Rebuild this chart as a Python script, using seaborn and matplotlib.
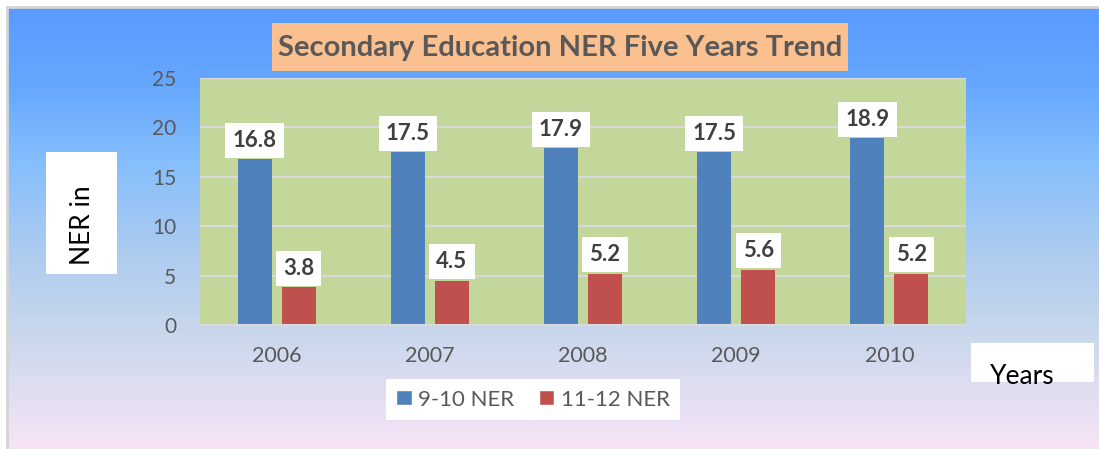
import numpy as np
import pandas as pd
import matplotlib.pyplot as plt
import seaborn as sns
from matplotlib.patches import Rectangle, Patch

# Data
years = ['2006', '2007', '2008', '2009', '2010']
ner_9_10 = [16.8, 17.5, 17.9, 17.5, 18.9]
ner_11_12 = [3.8, 4.5, 5.2, 5.6, 5.2]
series = ['9-10 NER', '11-12 NER']
colors = ['#4F81BD', '#C0504D']

df = pd.DataFrame({'Year': years * 2,
                   'NER': ner_9_10 + ner_11_12,
                   'Series': [series[0]] * len(years) + [series[1]] * len(years)})

sns.set_style('white')
plt.rcParams['font.family'] = ['Lato', 'DejaVu Sans']

W, H = 1099, 449
fig = plt.figure(figsize=(W / 100, H / 100), dpi=100)
fig.patch.set_facecolor('white')

# Background layer, works in pixel coordinates (origin top-left)
bg = fig.add_axes([0, 0, 1, 1], zorder=0)
stops_y = [8, 80, 160, 250, 330, 449]
stops_c = np.array([(90, 156, 255), (100, 166, 255), (132, 190, 252),
                    (172, 203, 240), (200, 215, 236), (247, 228, 246)]) / 255
yy = np.arange(8, H + 1)
grad = np.stack([np.interp(yy, stops_y, stops_c[:, i]) for i in range(3)], axis=-1)[:, None, :]
bg.imshow(grad, extent=(8, W, H, 8), aspect='auto', interpolation='bilinear')
bg.set_xlim(0, W)
bg.set_ylim(H, 0)
bg.axis('off')
bg.plot([7, 7], [7, H], color='#D4D4D4', lw=2)
bg.plot([7, W], [7, 7], color='#D4D4D4', lw=2)

# Title
bg.add_patch(Rectangle((272, 23), 576, 48, facecolor='#FAC090', edgecolor='none'))
bg.text(560, 48, 'Secondary Education NER Five Years Trend', ha='center', va='center',
        fontsize=21, fontweight='bold', color='#595959')

# Axis title boxes
bg.add_patch(Rectangle((46, 152), 71, 122, facecolor='white', edgecolor='none'))
bg.text(83, 225, 'NER in', rotation=90, ha='center', va='center', fontsize=19, color='black')
years_box = Rectangle((971, 343), 123, 39, facecolor='white', edgecolor='none')
bg.add_patch(years_box)
yt = bg.text(990, 384, 'Years', ha='left', va='baseline', fontsize=19, color='black')
yt.set_clip_path(years_box)

# Legend box
bg.add_patch(Rectangle((386, 379), 294, 41, facecolor='white', edgecolor='none'))

# Chart
ax = fig.add_axes([200 / W, 1 - 325 / H, 766 / W, 247 / H], zorder=1)
sns.barplot(data=df, x='Year', y='NER', hue='Series', palette=colors, width=0.576,
            gap=0.23, saturation=1, errorbar=None, legend=False, linewidth=0, ax=ax)
ax.set_facecolor('#C4D79B')
ax.set_ylim(0, 25)
ax.set_yticks(range(0, 26, 5))
ax.yaxis.grid(True, color='#D9D9D9', lw=1.5)
ax.set_axisbelow(True)
ax.set_xlabel('')
ax.set_ylabel('')
for side in ['top', 'left', 'right']:
    ax.spines[side].set_visible(False)
ax.spines['bottom'].set_color('#D9D9D9')
ax.spines['bottom'].set_linewidth(1.5)
ax.tick_params(axis='y', length=0, labelsize=15, labelcolor='#595959', pad=17)
ax.tick_params(axis='x', length=0, labelsize=15.5, labelcolor='#595959', pad=15)

for cont, vals in zip(ax.containers, [ner_9_10, ner_11_12]):
    ax.bar_label(cont, labels=[f'{v:.1f}' for v in vals], padding=6, fontsize=16,
                 fontweight='bold', color='#404040',
                 bbox=dict(boxstyle='square,pad=0.32', facecolor='white', edgecolor='none'))

handles = [Patch(facecolor=c, label=s) for c, s in zip(colors, series)]
ax.legend(handles=handles, loc='center', bbox_to_anchor=(533 / W, 1 - 399.5 / H),
          bbox_transform=fig.transFigure, ncol=2, frameon=False, fontsize=16,
          labelcolor='#595959', handlelength=0.68, handleheight=0.68,
          handletextpad=0.3, columnspacing=1.1)

fig.savefig('out.png', dpi=100)
